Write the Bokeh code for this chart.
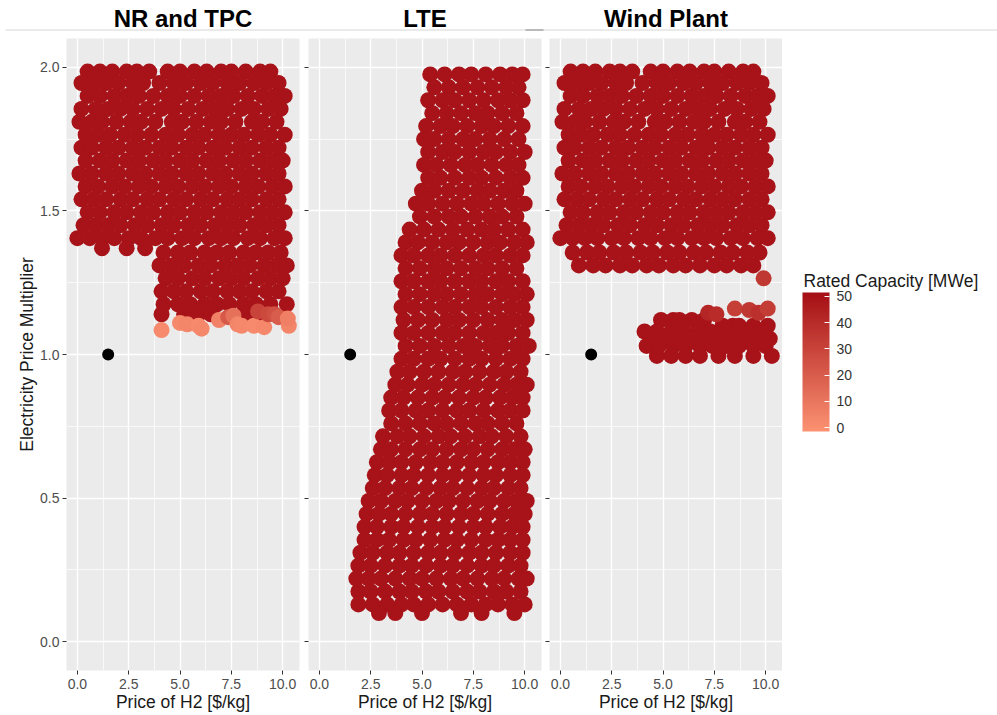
from bokeh.plotting import figure
from bokeh.layouts import row, column
from bokeh.models import (ColumnDataSource, LinearColorMapper, ColorBar, FixedTicker,
                          PrintfTickFormatter, CustomJSTickFormatter, Range1d)
from bokeh.core.properties import value
from bokeh.embed import file_html
from bokeh.resources import INLINE

FONT = "Liberation Sans"

# ---------------------------------------------------------------- data
panel_titles = ["NR and TPC", "LTE", "Wind Plant"]
x_title = "Price of H2 [$/kg]"
y_title = "Electricity Price Multiplier"
legend_title = "Rated Capacity [MWe]"

x_ticks = [0, 2.5, 5, 7.5, 10]
x_minor = [1.25, 3.75, 6.25, 8.75]
y_ticks = [0.0, 0.5, 1.0, 1.5, 2.0]
y_minor = [0.25, 0.75, 1.25, 1.75]
cap_ticks = [0, 10, 20, 30, 40, 50]

# current reference case (price of H2, electricity multiplier)
ref_price = [1.5]
ref_mult = [1.0]

FULL_CAPACITY = 50  # MWe, rated capacity of the dark cases

# cases at high electricity prices (rows: multiplier, list of H2 prices)
upper_rows = [
    (1.985, [0.5, 1.1, 1.7, 2.4, 2.9, 3.5, 4.4, 5.0, 5.7, 6.3, 7.0, 7.5, 8.2, 8.9, 9.4]),
    (1.945, [0.2, 0.8, 1.4, 2.0, 2.7, 3.2, 4.0, 4.7, 5.3, 6.0, 6.6, 7.3, 7.9, 8.6, 9.2, 9.8]),
    (1.900, [0.5, 1.1, 1.8, 2.4, 3.0, 3.7, 4.4, 5.0, 5.7, 6.4, 7.0, 7.6, 8.3, 9.0, 9.6, 10.1]),
    (1.855, [0.2, 0.9, 1.5, 2.1, 2.7, 3.4, 4.1, 4.7, 5.4, 6.1, 6.7, 7.3, 8.0, 8.6, 9.3, 9.9]),
    (1.810, [0.1, 0.7, 1.2, 1.9, 2.6, 3.1, 3.8, 4.6, 5.1, 5.8, 6.5, 7.0, 7.7, 8.5, 9.0, 9.7]),
    (1.765, [0.4, 1.0, 1.6, 2.3, 2.9, 3.6, 4.3, 4.9, 5.6, 6.2, 6.9, 7.5, 8.1, 8.8, 9.4, 10.1]),
    (1.720, [0.2, 0.7, 1.4, 2.0, 2.7, 3.3, 4.0, 4.6, 5.3, 5.9, 6.6, 7.2, 7.9, 8.5, 9.2, 9.8]),
    (1.675, [0.4, 1.1, 1.7, 2.4, 3.0, 3.7, 4.3, 5.0, 5.6, 6.3, 6.9, 7.6, 8.2, 8.9, 9.5, 10.0]),
    (1.630, [0.1, 0.7, 1.4, 2.0, 2.7, 3.3, 4.0, 4.6, 5.3, 5.9, 6.6, 7.2, 7.9, 8.5, 9.2, 9.8]),
    (1.585, [0.4, 1.0, 1.7, 2.3, 3.0, 3.6, 4.3, 4.9, 5.6, 6.2, 6.9, 7.5, 8.2, 8.8, 9.5, 10.1]),
    (1.540, [0.2, 0.8, 1.4, 2.1, 2.7, 3.4, 4.0, 4.7, 5.3, 6.0, 6.6, 7.3, 7.9, 8.5, 9.2, 9.8]),
    (1.495, [0.5, 1.1, 1.8, 2.4, 3.1, 3.7, 4.4, 5.0, 5.7, 6.3, 7.0, 7.6, 8.2, 8.9, 9.5, 10.1]),
    (1.450, [0.3, 0.9, 1.5, 2.1, 2.8, 3.4, 4.1, 4.7, 5.4, 6.0, 6.7, 7.3, 7.9, 8.6, 9.2, 9.8]),
    (1.405, [0.0, 0.6, 1.2, 1.8, 2.5, 3.1, 3.8, 4.4, 5.1, 5.7, 6.4, 7.0, 7.6, 8.3, 8.9, 9.6, 10.1]),
]

# NR and TPC: additional full-capacity cases
nr_rows = [
    (1.370, [1.2, 2.4, 3.3]),
    (1.355, [4.2, 4.9, 5.5, 6.2, 6.8, 7.4, 8.1, 8.7, 9.3, 9.9]),
    (1.310, [4.0, 4.6, 5.2, 5.9, 6.5, 7.2, 7.8, 8.4, 9.1, 9.7, 10.2]),
    (1.265, [4.3, 4.9, 5.6, 6.2, 6.9, 7.5, 8.1, 8.8, 9.4, 10.0]),
    (1.220, [4.1, 4.7, 5.3, 6.0, 6.6, 7.3, 7.9, 8.5, 9.2, 9.8]),
    (1.175, [4.2, 4.9, 5.5, 6.2, 6.8, 7.4, 8.1, 8.7, 9.4, 10.2]),
    (1.140, [4.1, 5.2, 5.9, 6.5, 8.3, 9.0]),
]
# NR and TPC: partial-capacity cases
nr_part_price = [4.1, 5.0, 5.35, 5.9, 6.05, 6.9, 7.35, 7.6, 7.8, 8.0, 8.6, 8.8, 9.1, 9.3, 9.6, 9.8, 10.3, 10.25]
nr_part_mult = [1.085, 1.11, 1.105, 1.10, 1.09, 1.12, 1.13, 1.135, 1.105, 1.10, 1.10, 1.15, 1.095, 1.14, 1.14, 1.13, 1.10, 1.125]
nr_part_cap = [2, 3, 4, 2, 3, 5, 22, 12, 4, 3, 2, 30, 3, 28, 25, 20, 4, 6]

# LTE: full-capacity cases
lte_rows = [
    (1.975, [5.4, 6.1, 6.8, 7.4, 8.1, 8.8, 9.4, 9.9]),
    (1.930, [5.6, 6.3, 7.0, 7.7, 8.4, 9.1, 9.7]),
    (1.885, [5.3, 6.0, 6.6, 7.3, 8.0, 8.7, 9.3, 9.9]),
    (1.840, [5.5, 6.2, 6.9, 7.6, 8.2, 8.9, 9.6]),
    (1.795, [5.2, 5.9, 6.5, 7.2, 7.9, 8.5, 9.2, 9.9]),
    (1.750, [5.1, 5.6, 6.3, 7.0, 7.6, 8.3, 9.0, 9.7]),
    (1.705, [5.3, 6.0, 6.6, 7.3, 8.0, 8.6, 9.3, 10.0]),
    (1.660, [5.1, 5.7, 6.4, 7.1, 7.7, 8.4, 9.1, 9.7]),
    (1.615, [5.3, 5.9, 6.6, 7.3, 7.9, 8.6, 9.3, 9.9]),
    (1.570, [5.0, 5.6, 6.3, 7.0, 7.7, 8.3, 9.0, 9.6]),
    (1.525, [4.7, 5.3, 6.0, 6.7, 7.4, 8.0, 8.7, 9.4, 10.0]),
    (1.480, [4.9, 5.6, 6.3, 6.9, 7.6, 8.3, 8.9, 9.6]),
    (1.435, [4.4, 5.1, 5.8, 6.5, 7.2, 7.9, 8.5, 9.2, 9.9]),
    (1.390, [4.2, 4.8, 5.5, 6.2, 6.8, 7.5, 8.2, 8.8, 9.5, 10.1]),
    (1.345, [4.0, 4.6, 5.3, 5.9, 6.6, 7.3, 8.0, 8.6, 9.3, 9.9]),
    (1.300, [4.2, 4.9, 5.6, 6.2, 6.9, 7.6, 8.2, 8.9, 9.6]),
    (1.255, [4.0, 4.6, 5.3, 5.9, 6.6, 7.3, 7.9, 8.6, 9.2, 9.9]),
    (1.210, [4.2, 4.9, 5.6, 6.2, 6.9, 7.6, 8.2, 8.9, 9.5, 10.1]),
    (1.165, [4.0, 4.6, 5.3, 6.0, 6.6, 7.3, 7.9, 8.6, 9.3, 9.9]),
    (1.120, [4.1, 4.8, 5.5, 6.2, 6.8, 7.5, 8.2, 8.9, 9.5, 10.1]),
    (1.075, [4.0, 4.6, 5.3, 6.0, 6.6, 7.3, 8.0, 8.6, 9.2, 9.9]),
    (1.030, [4.2, 4.9, 5.6, 6.3, 7.0, 7.6, 8.3, 8.9, 9.6, 10.2]),
    (0.985, [4.0, 4.6, 5.3, 5.9, 6.6, 7.3, 7.9, 8.6, 9.3, 9.9]),
    (0.940, [3.8, 4.4, 5.1, 5.8, 6.5, 7.1, 7.8, 8.5, 9.1, 9.8]),
    (0.895, [3.7, 4.3, 5.0, 5.6, 6.3, 7.0, 7.6, 8.3, 9.0, 9.6, 10.1]),
    (0.850, [3.5, 4.1, 4.8, 5.5, 6.1, 6.8, 7.5, 8.1, 8.8, 9.4, 9.9]),
    (0.805, [3.4, 4.0, 4.7, 5.3, 6.0, 6.7, 7.3, 8.0, 8.7, 9.3, 9.9]),
    (0.760, [3.5, 4.2, 4.9, 5.6, 6.2, 6.9, 7.6, 8.2, 8.9, 9.6]),
    (0.715, [3.1, 3.8, 4.4, 5.1, 5.8, 6.4, 7.1, 7.8, 8.4, 9.1, 9.8]),
    (0.670, [3.0, 3.5, 4.2, 4.9, 5.5, 6.2, 6.9, 7.5, 8.2, 8.9, 9.5, 10.0]),
    (0.625, [2.8, 3.4, 4.0, 4.7, 5.4, 6.0, 6.7, 7.4, 8.0, 8.7, 9.3, 9.9]),
    (0.580, [2.7, 3.3, 4.0, 4.6, 5.3, 6.0, 6.6, 7.3, 8.0, 8.6, 9.3, 9.9]),
    (0.535, [2.6, 3.2, 3.9, 4.5, 5.2, 5.9, 6.5, 7.2, 7.9, 8.5, 9.2, 9.8]),
    (0.490, [2.4, 3.0, 3.7, 4.3, 5.0, 5.7, 6.3, 7.0, 7.7, 8.3, 9.0, 9.6, 10.1]),
    (0.445, [2.3, 2.9, 3.5, 4.2, 4.9, 5.5, 6.2, 6.9, 7.5, 8.2, 8.9, 9.5, 10.0]),
    (0.400, [2.2, 2.8, 3.5, 4.1, 4.8, 5.5, 6.1, 6.8, 7.5, 8.1, 8.8, 9.4, 9.9]),
    (0.355, [2.2, 2.8, 3.4, 4.1, 4.7, 5.4, 6.1, 6.7, 7.4, 8.1, 8.7, 9.3, 9.9]),
    (0.310, [2.0, 2.6, 3.3, 3.9, 4.6, 5.3, 5.9, 6.6, 7.3, 7.9, 8.6, 9.3, 9.9]),
    (0.265, [1.9, 2.5, 3.2, 3.9, 4.5, 5.2, 5.9, 6.5, 7.2, 7.9, 8.5, 9.2, 9.8]),
    (0.220, [1.8, 2.4, 3.0, 3.7, 4.4, 5.0, 5.7, 6.4, 7.0, 7.7, 8.4, 9.0, 9.7, 10.1]),
    (0.175, [1.9, 2.5, 3.2, 3.9, 4.5, 5.2, 5.8, 6.5, 7.2, 7.8, 8.5, 9.1, 9.8]),
    (0.130, [1.9, 2.6, 3.3, 4.0, 4.6, 5.3, 6.0, 6.7, 7.4, 8.1, 8.7, 9.4, 10.0]),
    (0.100, [2.9, 3.7, 5.0, 6.9, 7.9, 9.5]),
]

# Wind plant: additional full-capacity cases
wind_rows = [
    (1.355, [0.6, 1.3, 1.9, 2.6, 3.2, 3.9, 4.5, 5.2, 5.8, 6.5, 7.1, 7.8, 8.4, 9.1, 9.7]),
    (1.310, [0.9, 1.6, 2.2, 2.9, 3.5, 4.2, 4.8, 5.5, 6.1, 6.8, 7.5, 8.1, 8.8, 9.4]),
    (1.120, [4.9, 5.5, 5.8, 6.4, 7.0]),
    (1.100, [7.9, 8.4, 8.7, 9.4, 10.1]),
    (1.080, [4.1, 4.7, 5.4, 6.0, 6.7, 7.3, 8.0, 8.6, 9.2, 9.9]),
    (1.055, [4.4, 5.1, 5.7, 6.4, 7.0, 7.7, 8.3, 9.0, 9.6, 10.2]),
    (1.030, [4.2, 4.8, 5.5, 6.1, 6.8, 7.4, 8.1, 8.7, 9.4, 10.0]),
    (0.995, [4.7, 5.4, 6.1, 6.8, 7.7, 8.5, 9.4, 10.3]),
]
# Wind plant: partial-capacity cases
wind_part_price = [7.2, 7.6, 8.5, 9.2, 9.65, 10.1, 9.9]
wind_part_mult = [1.145, 1.14, 1.16, 1.155, 1.145, 1.16, 1.265]
wind_part_cap = [42, 40, 32, 35, 38, 33, 35]


def flatten(rows):
    xs, ys = [], []
    for y, xlist in rows:
        for x in xlist:
            xs.append(x)
            ys.append(y)
    return xs, ys


def panel_source(row_sets, part_x, part_y, part_cap):
    xs, ys = [], []
    for rows in row_sets:
        rx, ry = flatten(rows)
        xs += rx
        ys += ry
    caps = [FULL_CAPACITY] * len(xs)
    return ColumnDataSource(dict(x=xs + part_x, y=ys + part_y, cap=caps + part_cap))


sources = [
    panel_source([upper_rows, nr_rows], nr_part_price, nr_part_mult, nr_part_cap),
    panel_source([lte_rows], [], [], []),
    panel_source([upper_rows, wind_rows], wind_part_price, wind_part_mult, wind_part_cap),
]

# ---------------------------------------------------------------- colour scale
LOW_RGB = (252, 146, 114)
HIGH_RGB = (165, 15, 21)
palette = []
for i in range(256):
    t = i / 255
    r, g, b = (round(lo + (hi - lo) * t) for lo, hi in zip(LOW_RGB, HIGH_RGB))
    palette.append(f"#{r:02x}{g:02x}{b:02x}")
mapper = LinearColorMapper(palette=palette, low=-1.5, high=51.5)

# ---------------------------------------------------------------- layout
FRAME_W, FRAME_H = 233, 632
TOP, BOTTOM = 6, 45
HEADER_H = 32
PANEL_H = TOP + FRAME_H + BOTTOM
borders = [(66, 4), (5, 3), (5, 0)]
LEGEND_W = 997 - sum(l + FRAME_W + r for l, r in borders)


def style_axes(p, show_y):
    for ax in (p.xaxis, p.yaxis):
        ax.axis_line_color = None
        ax.major_tick_line_color = "#333333"
        ax.major_tick_in = 0
        ax.major_tick_out = 4
        ax.minor_tick_line_color = None
        ax.major_label_text_font = FONT
        ax.major_label_text_font_size = "14px"
        ax.major_label_text_color = "#4D4D4D"
        ax.axis_label_text_font = FONT
        ax.axis_label_text_font_size = "17.5px"
        ax.axis_label_text_font_style = "normal"
        ax.axis_label_text_color = "#1A1A1A"
    p.xaxis.ticker = FixedTicker(ticks=x_ticks, minor_ticks=x_minor)
    p.yaxis.ticker = FixedTicker(ticks=y_ticks, minor_ticks=y_minor)
    p.xaxis.formatter = PrintfTickFormatter(format="%.1f")
    p.xaxis.major_label_standoff = 4
    p.xaxis.axis_label_standoff = 0
    p.xaxis.axis_label = x_title
    if show_y:
        p.yaxis.formatter = PrintfTickFormatter(format="%.1f")
        p.yaxis.major_label_standoff = 3
        p.yaxis.axis_label_standoff = 0
        p.yaxis.axis_label = y_title
    else:
        p.yaxis.formatter = CustomJSTickFormatter(code="return ''")
        p.yaxis.major_label_standoff = 0
        p.yaxis.axis_label_standoff = 0
    for g in (p.xgrid, p.ygrid):
        g.grid_line_color = "white"
        g.grid_line_width = 1.4
        g.minor_grid_line_color = "white"
        g.minor_grid_line_width = 0.7


panels = []
for k, src in enumerate(sources):
    left, right = borders[k]
    p = figure(frame_width=FRAME_W, frame_height=FRAME_H,
               x_range=Range1d(-0.53, 10.82), y_range=Range1d(-0.1, 2.1),
               min_border_left=left, min_border_right=right,
               min_border_top=TOP, min_border_bottom=BOTTOM,
               output_backend="svg", toolbar_location=None)
    p.background_fill_color = "#EBEBEB"
    p.border_fill_color = "white"
    p.outline_line_color = None
    style_axes(p, k == 0)
    p.scatter(x="x", y="y", source=src, size=16, line_color=None,
              fill_color={"field": "cap", "transform": mapper})
    p.scatter(ref_price, ref_mult, size=12, fill_color="black", line_color=None)
    panels.append(p)

# header with facet titles (pixel coordinates, origin at the bottom)
header = figure(width=997, height=HEADER_H, x_range=Range1d(0, 997), y_range=Range1d(0, HEADER_H),
                min_border=0, output_backend="svg", toolbar_location=None,
                x_axis_type=None, y_axis_type=None)
header.outline_line_color = None
header.background_fill_color = "white"
header.border_fill_color = "white"
header.grid.visible = False
centers = []
x0 = 0
for l, r in borders:
    centers.append(x0 + l + FRAME_W / 2)
    x0 += l + FRAME_W + r
header.segment(x0=[5], y0=[2.5], x1=[997], y1=[2.5], line_color="#D6D6D6", line_width=1)
header.segment(x0=[525], y0=[2.5], x1=[543], y1=[2.5], line_color="#A8A8A8", line_width=1.5)
header.text(x=centers, y=[14] * 3, text=panel_titles, text_font=value(FONT),
            text_font_style="bold", text_font_size="24px", text_align="center",
            text_baseline="middle", text_color="#000000")

# legend area with colour bar (pixel coordinates, origin at the bottom)
legend = figure(width=LEGEND_W, height=PANEL_H, min_border=0,
                x_range=Range1d(0, LEGEND_W), y_range=Range1d(0, PANEL_H),
                output_backend="svg", toolbar_location=None,
                x_axis_type=None, y_axis_type=None)
legend.outline_line_color = None
legend.background_fill_color = "white"
legend.border_fill_color = "white"
legend.grid.visible = False
legend.text(x=[21], y=[PANEL_H - 262], text=[legend_title], text_font=value(FONT),
            text_font_size="17.5px", text_align="left", text_baseline="middle",
            text_color="#1A1A1A")
cb = ColorBar(color_mapper=mapper, ticker=FixedTicker(ticks=cap_ticks),
              width=27, height=139, location=(20, 239), padding=0,
              major_label_text_font=FONT, major_label_text_font_size="14px",
              major_label_text_color="#333333", label_standoff=7,
              major_tick_line_color="white", major_tick_in=5, major_tick_out=0,
              minor_tick_line_color=None, bar_line_color=None,
              border_line_color=None, background_fill_color=None)
legend.add_layout(cb)

layout = column(header, row(*panels, legend, spacing=0), spacing=0)
open("out.html", "w").write(file_html(layout, INLINE))
